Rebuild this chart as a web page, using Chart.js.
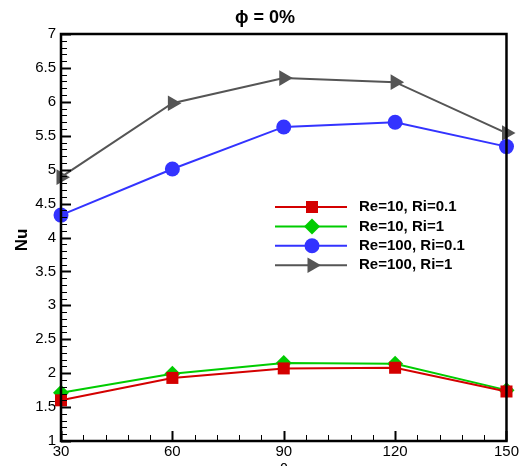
<!DOCTYPE html>
<html>
<head>
<meta charset="utf-8">
<script src="https://cdn.jsdelivr.net/npm/chart.js@4"></script>
<style>
  html, body { margin: 0; padding: 0; background: #fff; }
</style>
</head>
<body>
<canvas id="nuChart" width="521" height="466"></canvas>
<script>
const angles = [30, 60, 90, 120, 150];
const re10ri01 = [1.60, 1.93, 2.07, 2.08, 1.73];
const re10ri1 = [1.71, 1.99, 2.15, 2.14, 1.75];
const re100ri01 = [4.33, 5.01, 5.63, 5.70, 5.34];
const re100ri1 = [4.89, 5.98, 6.35, 6.29, 5.54];
const seriesLabels = ["Re=10, Ri=0.1", "Re=10, Ri=1", "Re=100, Ri=0.1", "Re=100, Ri=1"];
const chartTitle = "\u03d5 = 0%";
const yTitle = "Nu";
const xTitle = "\u03b8";

const FONT = "'Liberation Sans', Arial, sans-serif";

function toPoints(vals) {
  return vals.map((v, i) => ({ x: angles[i], y: v }));
}

function series(label, vals, color, style, radius, rotation) {
  return {
    label: label,
    data: toPoints(vals),
    borderColor: color,
    backgroundColor: color,
    borderWidth: 2,
    pointStyle: style,
    pointRadius: radius,
    pointRotation: rotation || 0,
    pointBackgroundColor: color,
    pointBorderColor: color,
    pointBorderWidth: 0,
    clip: false,
  };
}

// inward ticks, frame, titles and the inset legend
const decorations = {
  id: "decorations",
  afterDatasetsDraw(chart) {
    const { ctx, chartArea: a, scales } = chart;
    const xs = scales.x, ys = scales.y;
    ctx.save();
    ctx.strokeStyle = "#000";
    for (let i = 10; i <= 70; i++) {
      const py = Math.round(ys.getPixelForValue(i / 10)) + 0.5;
      const major = i % 5 === 0;
      ctx.lineWidth = major ? 2 : 1;
      ctx.beginPath();
      ctx.moveTo(a.left, py);
      ctx.lineTo(a.left + (major ? 10 : 6), py);
      ctx.stroke();
    }
    for (let i = 0; i <= 20; i++) {
      const v = 30 + 6 * i;
      const px = Math.round(xs.getPixelForValue(v)) + 0.5;
      const major = i % 5 === 0;
      ctx.lineWidth = major ? 2 : 1;
      ctx.beginPath();
      ctx.moveTo(px, a.bottom);
      ctx.lineTo(px, a.bottom - (major ? 10 : 6));
      ctx.stroke();
    }
    ctx.lineWidth = 2.5;
    ctx.strokeRect(a.left, a.top, a.right - a.left, a.bottom - a.top);
    ctx.restore();
  },
  afterDraw(chart) {
    const { ctx } = chart;
    ctx.save();
    ctx.fillStyle = "#000";
    ctx.textAlign = "center";
    ctx.textBaseline = "middle";
    ctx.font = "bold 18px " + FONT;
    ctx.fillText(chartTitle, 265, 18);

    ctx.save();
    ctx.translate(22, 240);
    ctx.rotate(-Math.PI / 2);
    ctx.font = "bold 17px " + FONT;
    ctx.fillText(yTitle, 0, 0);
    ctx.restore();

    ctx.textBaseline = "top";
    ctx.font = "15px " + FONT;
    ctx.fillText(xTitle, 284, 462);

    // legend
    const x0 = 275, x1 = 347, xm = 312, xt = 359;
    let ly = 207;
    chart.data.datasets.forEach((ds) => {
      ctx.strokeStyle = ds.borderColor;
      ctx.lineWidth = 2;
      ctx.beginPath();
      ctx.moveTo(x0, ly);
      ctx.lineTo(x1, ly);
      ctx.stroke();
      ctx.fillStyle = ds.pointBackgroundColor;
      ctx.strokeStyle = ds.pointBorderColor;
      Chart.helpers.drawPoint(ctx, {
        pointStyle: ds.pointStyle,
        radius: ds.pointRadius,
        rotation: ds.pointRotation,
        borderWidth: 0,
      }, xm, ly);
      ctx.fillStyle = "#000";
      ctx.textAlign = "left";
      ctx.textBaseline = "middle";
      ctx.font = "bold 15px " + FONT;
      ctx.fillText(ds.label, xt, ly);
      ly += 19.4;
    });
    ctx.restore();
  },
};

new Chart(document.getElementById("nuChart"), {
  type: "line",
  data: {
    datasets: [
      series(seriesLabels[0], re10ri01, "#d40000", "rect", 8.5),
      series(seriesLabels[1], re10ri1, "#00cc00", "rectRot", 8),
      series(seriesLabels[2], re100ri01, "#3333ff", "circle", 7.5),
      series(seriesLabels[3], re100ri1, "#555555", "triangle", 9, 90),
    ],
  },
  options: {
    responsive: false,
    animation: false,
    layout: { padding: { top: 34, right: 14, left: 0, bottom: 0 } },
    plugins: {
      legend: { display: false },
      title: { display: false },
      tooltip: { enabled: false },
    },
    scales: {
      x: {
        type: "linear",
        min: 30,
        max: 150,
        ticks: {
          stepSize: 30,
          color: "#000",
          padding: 2,
          font: { family: FONT, size: 15 },
        },
        grid: { display: false, drawTicks: false },
        border: { display: false },
        afterFit(scale) { scale.height = 25; },
      },
      y: {
        min: 1,
        max: 7,
        ticks: {
          stepSize: 0.5,
          color: "#000",
          padding: 5,
          font: { family: FONT, size: 15 },
          callback: (v) => String(Math.round(v * 10) / 10),
        },
        grid: { display: false, drawTicks: false },
        border: { display: false },
        afterFit(scale) { scale.width = 61; },
      },
    },
  },
  plugins: [decorations],
});
</script>
</body>
</html>
